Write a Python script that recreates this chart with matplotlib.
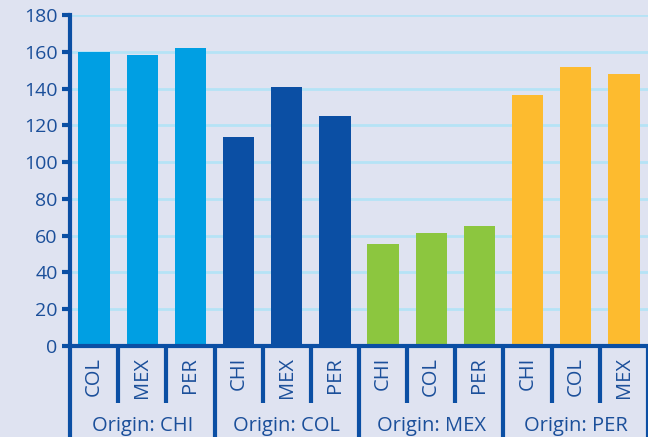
import numpy as np
import matplotlib.pyplot as plt
import matplotlib.transforms as mtransforms

plt.rcParams['font.family'] = ['Open Sans', 'DejaVu Sans']

origins = ["CHI", "COL", "MEX", "PER"]
destinations = [["COL", "MEX", "PER"],
                ["CHI", "MEX", "PER"],
                ["CHI", "COL", "PER"],
                ["CHI", "COL", "MEX"]]
values = [[160, 158, 162],
          [113.5, 141, 125],
          [55.5, 61.5, 65],
          [136.5, 151.5, 148]]
colors = ["#009fe3", "#0b4fa4", "#8cc63f", "#fdbb2f"]

axis_col = "#0b4fa4"
text_col = "#1b4f9a"
bg = "#dfe3f1"

fig = plt.figure(figsize=(6.48, 4.37), dpi=100, facecolor=bg)
ax = fig.add_axes([70 / 648, 1 - 346 / 437, 1 - 70 / 648, 331 / 437])
ax.set_facecolor(bg)

x = 0
for g, vals in enumerate(values):
    xs = np.arange(x, x + len(vals))
    ax.bar(xs, vals, width=0.65, color=colors[g], zorder=3)
    x += len(vals)
n = x

ax.set_xlim(-0.5, n - 0.5)
ax.set_ylim(0, 180)
ax.set_yticks(np.arange(0, 181, 20))
ax.yaxis.grid(True, color="#b5e3f6", linewidth=2, zorder=0)
ax.set_xticks([])
for s in ["top", "right"]:
    ax.spines[s].set_visible(False)
ax.spines["left"].set_color(axis_col)
ax.spines["left"].set_linewidth(3)
ax.spines["bottom"].set_color(axis_col)
ax.spines["bottom"].set_linewidth(3)
ax.spines["bottom"].set_zorder(4)
ax.tick_params(axis="y", colors=axis_col, width=3, length=6, labelsize=14,
               labelcolor=text_col, pad=3)

# category axis drawn below the plot: short dividers between bars, long ones between groups
trans = mtransforms.blended_transform_factory(ax.transData, fig.transFigure)
y_axis = 1 - 346 / 437
y_short = 1 - 403 / 437
for i in range(n + 1):
    bx = i - 0.5
    y_end = 0 if i % 3 == 0 else y_short
    ax.plot([bx, bx], [y_axis, y_end], transform=trans, color=axis_col,
            linewidth=3, clip_on=False, solid_capstyle="butt")

i = 0
for g, dests in enumerate(destinations):
    for d in dests:
        ax.text(i, 1 - 357 / 437, d, transform=trans, rotation=90,
                ha="center", va="top", fontsize=14.5, color=text_col)
        i += 1
    ax.text(i - 2, 1 - 416 / 437, "Origin: " + origins[g], transform=trans,
            ha="center", va="top", fontsize=14.5, color=text_col)

fig.savefig("out.png", dpi=100, facecolor=bg)
